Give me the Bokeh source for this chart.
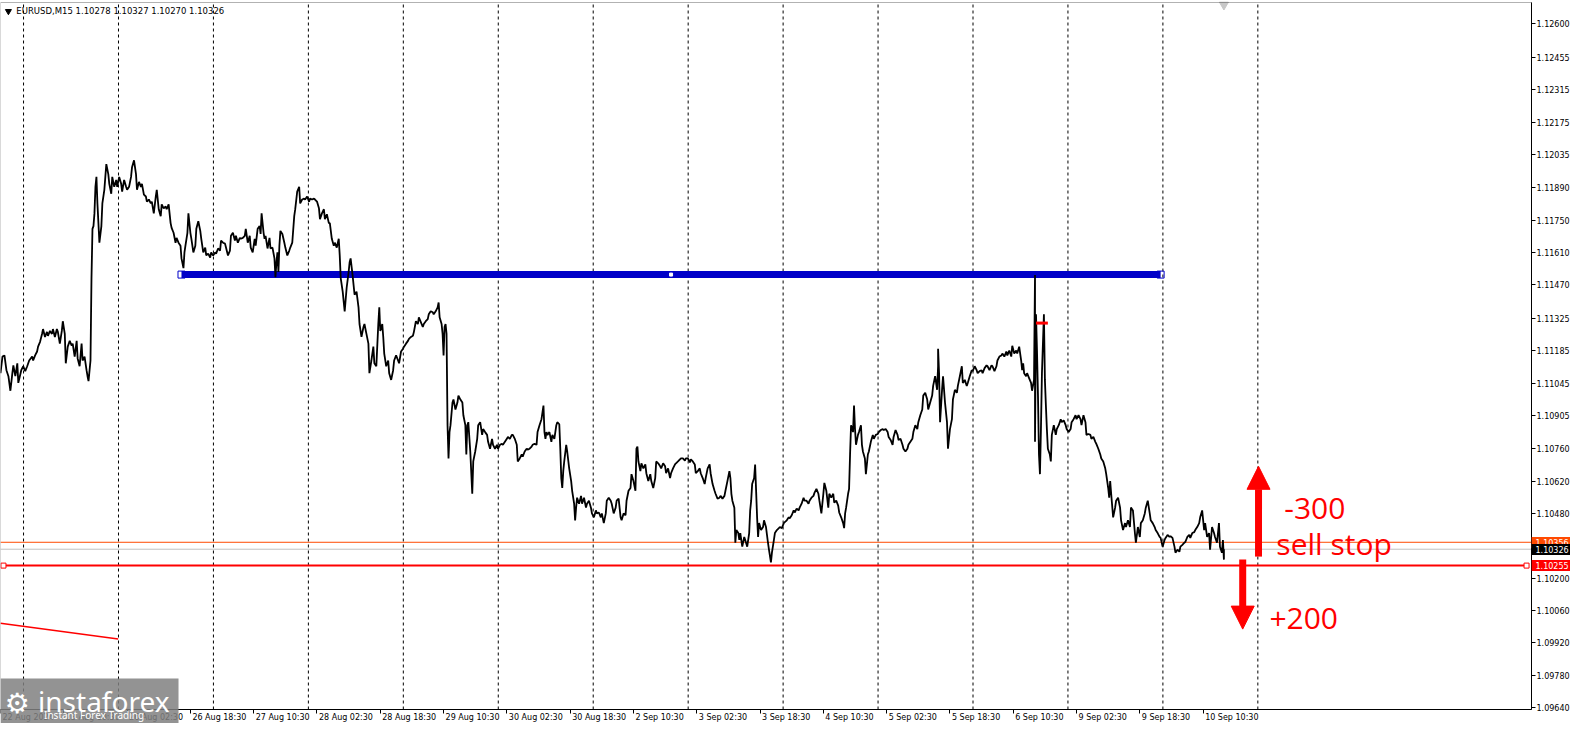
from bokeh.plotting import figure
from bokeh.models import (Range1d, FixedTicker, PrintfTickFormatter, Label, Arrow,
                          NormalHead, BoxAnnotation, LinearAxis)
from bokeh.embed import file_html
from bokeh.resources import INLINE

# ---------------- data (bar index, close price) ----------------
bar_x = [
    0, 2, 4, 6, 8, 10, 12, 13, 15, 17, 18, 21, 23, 25, 27, 29, 32, 33, 35, 37, 38, 40, 42, 43, 45, 47, 48, 50,
    52, 53, 55, 57, 58, 60, 62, 63, 65, 66, 68, 70, 72, 73, 75, 77, 78, 80, 82, 83, 85, 87, 88, 89, 91, 92,
    93, 94, 95, 96, 97, 98, 99, 100, 102, 103, 105, 106, 107, 109, 110, 112, 113, 115, 117, 118, 120, 122,
    123, 125, 127, 128, 130, 132, 133, 135, 137, 138, 140, 142, 143, 145, 147, 148, 150, 152, 153, 155, 157,
    158, 160, 162, 163, 165, 167, 168, 170, 172, 173, 175, 177, 178, 180, 182, 183, 185, 186, 187, 189, 190,
    192, 193, 195, 197, 198, 200,
    202, 203, 205, 207, 208, 210, 212, 213, 215, 217, 218, 220, 222, 223, 225, 227, 228, 230, 232, 233, 235,
    237, 238, 240, 242, 243, 245, 247, 248, 250, 252, 253, 255, 257, 258, 260, 262, 263, 264, 266, 267, 268,
    270, 272, 273, 275, 277, 278, 279, 280, 281, 282, 283, 285, 287, 288, 290, 292, 293, 295, 297, 298, 300,
    302, 303, 305, 307, 308, 310, 312, 313, 315, 317, 318, 320, 322, 323, 325, 327, 328, 330, 332, 333, 335,
    337, 338, 340, 342, 343, 344, 346, 347, 348, 350, 352, 353, 354, 356, 357, 358, 360, 362, 363, 365, 367,
    368, 370, 372, 373, 375, 377, 378, 380, 382, 383, 384, 386, 387, 388, 390, 392, 393, 395, 397, 398, 400,
    402, 403,
    405, 407, 408, 410, 412, 413, 415, 417, 418, 420, 422, 423, 425, 427, 428, 430, 432, 433, 435, 437, 438,
    440, 442, 443, 444, 446, 447, 448, 449, 450, 451, 452, 453, 454, 455, 457, 458, 460, 462, 463, 465, 467,
    468, 470, 471, 472, 473, 475, 477, 478, 480, 482, 483, 485, 487, 488, 490, 492, 493, 495, 497, 498, 500,
    502, 503, 505, 507, 508, 510, 512, 513, 515, 517, 518, 520, 522, 523, 525, 527, 528, 530, 532, 533, 535,
    537, 538, 540, 542, 543, 545, 547, 548, 549, 550, 551, 552, 553, 555, 557, 558, 560, 562, 563, 565, 566,
    567, 568, 569, 570, 572, 573, 575, 577, 578, 580, 581, 582, 583, 585, 587, 588, 590, 592, 593, 595, 597,
    598, 600, 602, 603, 605, 607, 608,
    610, 612, 613, 615, 617, 618, 620, 622, 623, 625, 627, 628, 630, 632, 633, 635, 637, 638, 640, 642, 643,
    644, 645, 647, 648, 650, 652, 653, 655, 657, 658, 660, 662, 663, 665, 667, 668, 670, 672, 673, 675, 677,
    678, 680, 682, 683, 685, 687, 688, 690, 692, 693, 695, 697, 698, 700, 702, 703, 705, 707, 708, 710, 712,
    713, 715, 717, 718, 720, 722, 723, 725, 727, 728, 730, 732, 733, 735, 737, 738, 739, 740, 742, 743, 744,
    746, 747, 748, 750, 752, 753, 755, 757, 758, 759, 760, 762, 763, 764, 765, 766, 767, 769, 771, 772, 774,
    776, 777, 779, 780, 782, 783, 785, 787, 788, 790, 792, 793, 795, 797, 798, 800, 802, 803, 805, 807, 808,
    810, 812, 813,
    815, 817, 818, 820, 822, 823, 825, 827, 828, 830, 832, 833, 835, 837, 838, 840, 842, 843, 845, 847, 848,
    850, 852, 853, 854, 855, 857, 858, 859, 860, 862, 863, 864, 865, 867, 868, 870, 871, 872, 874, 875, 877,
    878, 880, 882, 883, 885, 887, 888, 890, 892, 893, 895, 897, 898, 900, 902, 903, 905, 907, 908, 910, 912,
    913, 915, 917, 918, 920, 922, 923, 925, 927, 928, 930, 932, 933, 935, 937, 938, 940, 942, 943, 945, 947,
    948, 948, 949, 950, 952, 953, 955, 957, 958, 960, 962, 963, 965, 967, 968, 970, 972, 973, 975, 977, 978,
    980, 982, 983, 985, 987, 988, 990, 992, 993, 995, 997, 998, 1000, 1002, 1003, 1005, 1007, 1008, 1010,
    1012, 1013, 1015, 1017, 1018, 1020, 1022, 1023, 1025,
    1027, 1028, 1030, 1032, 1033, 1034, 1035, 1037, 1038, 1040, 1042, 1043, 1045, 1046, 1046, 1047, 1048,
    1049, 1050, 1051, 1052, 1053, 1055, 1056, 1057, 1058, 1059, 1061, 1062, 1063, 1065, 1067, 1068, 1070,
    1072, 1073, 1075, 1077, 1078, 1080, 1082, 1083, 1085, 1087, 1088, 1090, 1092, 1093, 1095, 1097, 1098,
    1100, 1102, 1103, 1105, 1107, 1108, 1110, 1112, 1113, 1115, 1117, 1118, 1120, 1121, 1122, 1123, 1125,
    1127, 1128, 1130, 1132, 1133, 1135, 1137, 1138, 1140, 1142, 1143, 1145, 1147, 1148, 1150, 1152, 1153,
    1155, 1157, 1158, 1160, 1162, 1163, 1165, 1167, 1168, 1170, 1172, 1173, 1175, 1177, 1178, 1180, 1182,
    1183, 1185, 1187, 1188, 1190, 1192, 1193, 1195, 1197, 1198, 1200, 1202, 1203, 1205, 1207, 1208, 1210,
    1212, 1213, 1215, 1217, 1218, 1220, 1222, 1223, 1225, 1227, 1228, 1230, 1232, 1233, 1235, 1236, 1237,
    1237,
]

close = [
    1.11088, 1.11160, 1.11165, 1.11101, 1.11075, 1.11012, 1.11088, 1.11122, 1.11075, 1.11131, 1.11046,
    1.11101, 1.11118, 1.11097, 1.11118, 1.11143, 1.11160, 1.11143, 1.11165, 1.11182, 1.11203, 1.11224,
    1.11258, 1.11279, 1.11245, 1.11267, 1.11250, 1.11271, 1.11258, 1.11279, 1.11245, 1.11279, 1.11267,
    1.11216, 1.11271, 1.11313, 1.11258, 1.11131, 1.11203, 1.11228, 1.11207, 1.11216, 1.11160, 1.11228,
    1.11152, 1.11118, 1.11216, 1.11143, 1.11160, 1.11101, 1.11075, 1.11054, 1.11143, 1.11500, 1.11713,
    1.11725, 1.11780, 1.11895, 1.11938, 1.11823, 1.11738, 1.11653, 1.11725, 1.11823, 1.11882, 1.11938,
    1.11993, 1.11950, 1.11908, 1.11865, 1.11938, 1.11895, 1.11925, 1.11895, 1.11938, 1.11908, 1.11874,
    1.11925, 1.11895, 1.11882, 1.11895, 1.11938, 1.11980, 1.12010, 1.11950, 1.11882, 1.11916, 1.11895,
    1.11908, 1.11861, 1.11853, 1.11831, 1.11840, 1.11823, 1.11831, 1.11780, 1.11853, 1.11882, 1.11798,
    1.11768, 1.11819, 1.11802, 1.11810, 1.11798, 1.11819, 1.11738, 1.11717, 1.11696, 1.11653, 1.11674,
    1.11653, 1.11640, 1.11585, 1.11543, 1.11611, 1.11640, 1.11696, 1.11780, 1.11696, 1.11670, 1.11611,
    1.11640, 1.11713, 1.11746,
    1.11704, 1.11670, 1.11611, 1.11632, 1.11598, 1.11606, 1.11589, 1.11611, 1.11598, 1.11611, 1.11606,
    1.11628, 1.11619, 1.11662, 1.11653, 1.11649, 1.11632, 1.11598, 1.11619, 1.11683, 1.11696, 1.11662,
    1.11683, 1.11653, 1.11674, 1.11670, 1.11674, 1.11683, 1.11713, 1.11653, 1.11683, 1.11632, 1.11611,
    1.11670, 1.11640, 1.11713, 1.11725, 1.11691, 1.11780, 1.11696, 1.11670, 1.11683, 1.11628, 1.11674,
    1.11628, 1.11632, 1.11585, 1.11504, 1.11568, 1.11611, 1.11526, 1.11640, 1.11704, 1.11691, 1.11653,
    1.11632, 1.11598, 1.11619, 1.11632, 1.11653, 1.11768, 1.11798, 1.11874, 1.11895, 1.11823, 1.11840,
    1.11844, 1.11840, 1.11853, 1.11831, 1.11844, 1.11840, 1.11844, 1.11840, 1.11831, 1.11802, 1.11755,
    1.11780, 1.11798, 1.11755, 1.11776, 1.11738, 1.11738, 1.11670, 1.11640, 1.11653, 1.11632, 1.11670,
    1.11598, 1.11500, 1.11441, 1.11398, 1.11356, 1.11458, 1.11526, 1.11568, 1.11585, 1.11513, 1.11470,
    1.11428, 1.11441, 1.11373, 1.11301, 1.11245, 1.11288, 1.11301, 1.11258, 1.11216, 1.11088, 1.11143,
    1.11203, 1.11131, 1.11118, 1.11301, 1.11373, 1.11271, 1.11301, 1.11245, 1.11173, 1.11118, 1.11143,
    1.11088, 1.11059, 1.11101, 1.11143, 1.11165, 1.11143, 1.11131,
    1.11182, 1.11194, 1.11203, 1.11216, 1.11228, 1.11237, 1.11245, 1.11250, 1.11267, 1.11313, 1.11301,
    1.11330, 1.11309, 1.11288, 1.11301, 1.11313, 1.11322, 1.11343, 1.11356, 1.11352, 1.11343, 1.11356,
    1.11373, 1.11394, 1.11330, 1.11301, 1.11258, 1.11165, 1.11288, 1.11301, 1.11258, 1.10863, 1.10719,
    1.10833, 1.10863, 1.10961, 1.10974, 1.10931, 1.10961, 1.10991, 1.10974, 1.10961, 1.10906, 1.10863,
    1.10736, 1.10863, 1.10876, 1.10749, 1.10566, 1.10706, 1.10749, 1.10804, 1.10863, 1.10876, 1.10821,
    1.10846, 1.10833, 1.10821, 1.10791, 1.10761, 1.10804, 1.10778, 1.10761, 1.10778, 1.10761, 1.10778,
    1.10782, 1.10778, 1.10791, 1.10804, 1.10812, 1.10804, 1.10821, 1.10821, 1.10804, 1.10778, 1.10706,
    1.10719, 1.10736, 1.10727, 1.10749, 1.10761, 1.10757, 1.10761, 1.10770, 1.10778, 1.10782, 1.10778,
    1.10833, 1.10863, 1.10889, 1.10918, 1.10948, 1.10833, 1.10804, 1.10833, 1.10821, 1.10833, 1.10791,
    1.10821, 1.10804, 1.10863, 1.10876, 1.10867, 1.10761, 1.10634, 1.10591, 1.10664, 1.10706, 1.10778,
    1.10749, 1.10676, 1.10621, 1.10579, 1.10523, 1.10451, 1.10506, 1.10549, 1.10523, 1.10557, 1.10523,
    1.10549, 1.10506, 1.10523, 1.10536, 1.10506, 1.10481, 1.10464, 1.10494, 1.10481, 1.10485, 1.10464,
    1.10481,
    1.10439, 1.10481, 1.10536, 1.10549, 1.10536, 1.10523, 1.10481, 1.10506, 1.10536, 1.10545, 1.10464,
    1.10451, 1.10481, 1.10473, 1.10536, 1.10579, 1.10591, 1.10651, 1.10621, 1.10579, 1.10761, 1.10770,
    1.10706, 1.10664, 1.10698, 1.10676, 1.10693, 1.10655, 1.10621, 1.10651, 1.10621, 1.10591, 1.10634,
    1.10706, 1.10698, 1.10685, 1.10676, 1.10698, 1.10685, 1.10655, 1.10676, 1.10634, 1.10655, 1.10676,
    1.10693, 1.10698, 1.10706, 1.10715, 1.10719, 1.10719, 1.10710, 1.10719, 1.10719, 1.10702, 1.10715,
    1.10706, 1.10693, 1.10655, 1.10664, 1.10676, 1.10655, 1.10634, 1.10608, 1.10634, 1.10676, 1.10693,
    1.10655, 1.10608, 1.10579, 1.10566, 1.10545, 1.10549, 1.10557, 1.10545, 1.10557, 1.10579, 1.10621,
    1.10664, 1.10634, 1.10566, 1.10536, 1.10506, 1.10354, 1.10409, 1.10396, 1.10366, 1.10396, 1.10337,
    1.10379, 1.10366, 1.10337, 1.10396, 1.10494, 1.10536, 1.10608, 1.10634, 1.10693, 1.10579, 1.10464,
    1.10379, 1.10439, 1.10409, 1.10422, 1.10451, 1.10422, 1.10354, 1.10324, 1.10269, 1.10311, 1.10366,
    1.10396, 1.10409, 1.10417, 1.10422, 1.10417, 1.10439, 1.10443, 1.10451, 1.10464, 1.10460, 1.10473,
    1.10494, 1.10485, 1.10502, 1.10494, 1.10506, 1.10523, 1.10549, 1.10536,
    1.10536, 1.10523, 1.10536, 1.10549, 1.10557, 1.10570, 1.10587, 1.10566, 1.10536, 1.10481, 1.10566,
    1.10613, 1.10579, 1.10506, 1.10566, 1.10549, 1.10566, 1.10528, 1.10536, 1.10515, 1.10485, 1.10464,
    1.10439, 1.10417, 1.10481, 1.10506, 1.10566, 1.10587, 1.10736, 1.10863, 1.10833, 1.10948, 1.10846,
    1.10778, 1.10821, 1.10833, 1.10863, 1.10778, 1.10749, 1.10719, 1.10651, 1.10736, 1.10749, 1.10791,
    1.10821, 1.10804, 1.10821, 1.10825, 1.10833, 1.10842, 1.10846, 1.10842, 1.10846, 1.10833, 1.10812,
    1.10799, 1.10778, 1.10812, 1.10842, 1.10821, 1.10799, 1.10804, 1.10778, 1.10761, 1.10749, 1.10761,
    1.10778, 1.10791, 1.10804, 1.10833, 1.10863, 1.10846, 1.10876, 1.10906, 1.10931, 1.10991, 1.11003,
    1.10974, 1.10931, 1.10961, 1.10991, 1.11033, 1.11075, 1.11016, 1.11118, 1.11194, 1.11088, 1.10876,
    1.11016, 1.11075, 1.10961, 1.10876, 1.10761, 1.10846, 1.10889, 1.10974, 1.11016, 1.11003, 1.11033,
    1.11075, 1.11118, 1.11046, 1.11059, 1.11033, 1.11046, 1.11075, 1.11101, 1.11097, 1.11118, 1.11101,
    1.11088, 1.11097, 1.11101, 1.11088, 1.11110, 1.11122, 1.11118, 1.11101, 1.11122, 1.11118, 1.11097,
    1.11118, 1.11143, 1.11160, 1.11165, 1.11173, 1.11160, 1.11182, 1.11165, 1.11186, 1.11160, 1.11207,
    1.11173,
    1.11186, 1.11173, 1.11203, 1.11143, 1.11101, 1.11131, 1.11088, 1.11075, 1.11088, 1.11067, 1.11046,
    1.11012, 1.11059, 1.11513, 1.10791, 1.11343, 1.11186, 1.10991, 1.10736, 1.10651, 1.10846, 1.11088,
    1.11343, 1.11059, 1.10948, 1.10846, 1.10761, 1.10736, 1.10706, 1.10821, 1.10863, 1.10821, 1.10846,
    1.10863, 1.10889, 1.10876, 1.10884, 1.10863, 1.10846, 1.10833, 1.10846, 1.10876, 1.10889, 1.10906,
    1.10889, 1.10906, 1.10889, 1.10863, 1.10906, 1.10876, 1.10821, 1.10825, 1.10821, 1.10804, 1.10812,
    1.10791, 1.10782, 1.10761, 1.10736, 1.10719, 1.10706, 1.10676, 1.10651, 1.10591, 1.10549, 1.10621,
    1.10566, 1.10464, 1.10506, 1.10536, 1.10549, 1.10506, 1.10451, 1.10409, 1.10439, 1.10422, 1.10451,
    1.10422, 1.10506, 1.10494, 1.10396, 1.10354, 1.10422, 1.10379, 1.10439, 1.10451, 1.10481, 1.10506,
    1.10536, 1.10481, 1.10451, 1.10439, 1.10422, 1.10409, 1.10396, 1.10379, 1.10375, 1.10337, 1.10366,
    1.10375, 1.10388, 1.10379, 1.10383, 1.10375, 1.10337, 1.10311, 1.10324, 1.10315, 1.10337, 1.10345,
    1.10354, 1.10358, 1.10379, 1.10388, 1.10375, 1.10396, 1.10400, 1.10409, 1.10422, 1.10439, 1.10464,
    1.10494, 1.10409, 1.10439, 1.10379, 1.10396, 1.10324, 1.10422, 1.10396, 1.10379, 1.10354, 1.10439,
    1.10337, 1.10311, 1.10366, 1.10281, 1.10326,
]

# horizontal levels / objects on the chart
blue_level = 1.11515
blue_start, blue_end, blue_mid = 183, 1173, 678
sell_stop_level = 1.10356
bid_level = 1.10326
red_level = 1.10255
red_start, red_end = 3, 1543
trend_x = [0, 119]
trend_y = [1.10005, 1.09937]
mark_x = [1047, 1059]
mark_level = 1.11305

# axis ticks
y_ticks = [1.12600, 1.12455, 1.12315, 1.12175, 1.12035, 1.11890, 1.11750, 1.11610, 1.11470,
           1.11325, 1.11185, 1.11045, 1.10905, 1.10760, 1.10620, 1.10480, 1.10200, 1.10060,
           1.09920, 1.09780, 1.09640]
x_tick_labels = ["22 Aug 2024", "23 Aug 10:30", "26 Aug 02:30", "26 Aug 18:30", "27 Aug 10:30",
                 "28 Aug 02:30", "28 Aug 18:30", "29 Aug 10:30", "30 Aug 02:30", "30 Aug 18:30",
                 "2 Sep 10:30", "3 Sep 02:30", "3 Sep 18:30", "4 Sep 10:30", "5 Sep 02:30",
                 "5 Sep 18:30", "6 Sep 10:30", "9 Sep 02:30", "9 Sep 18:30", "10 Sep 10:30"]
x_tick_pos = [64 * i for i in range(len(x_tick_labels))]
grid_pos = [23.3 + 96 * i for i in range(14)]

# ---------------- layout (pixels) ----------------
CW, CH = 1570, 723          # whole canvas
PW = 1531                   # width of the price area (price scale to its right)
PT, PB = 2, 709             # top / bottom of the price area
X0, X1 = 0, 1548            # bars shown in the price area
Y0, Y1 = 1.09632, 1.12693   # prices at bottom / top of the price area
SX = (X1 - X0) / PW
SY = (Y1 - Y0) / (PB - PT)
AXF = "DejaVu Sans"

_W = {" ": 0.318, ":": 0.337, "A": 0.684, "S": 0.635, "u": 0.634, "g": 0.635, "e": 0.615, "p": 0.635}


def text_w(s, size=8):
    return sum(_W.get(c, 0.636) for c in s) * size


label_pos = [round(t + (text_w(s) / 2 + 2) * SX, 2) for t, s in zip(x_tick_pos, x_tick_labels)]

p = figure(frame_width=CW, frame_height=CH,
           x_range=Range1d(X0, X0 + CW * SX), y_range=Range1d(Y0 - (CH - PB) * SY, Y1 + PT * SY),
           x_axis_location=None, y_axis_location=None,
           output_backend="svg", toolbar_location=None,
           min_border_left=0, min_border_top=0, min_border_right=0, min_border_bottom=0)
p.background_fill_color = "white"
p.border_fill_color = "white"
p.outline_line_color = None
p.grid.visible = False

# dashed day separators
p.segment(x0=grid_pos, y0=[Y0] * len(grid_pos), x1=grid_pos, y1=[Y1] * len(grid_pos),
          line_color="black", line_width=1, line_dash="3 3")

# price scale
yax = LinearAxis(ticker=FixedTicker(ticks=y_ticks), formatter=PrintfTickFormatter(format="%.5f"),
                 fixed_location=X1, bounds=(Y0, Y1), axis_line_color="black",
                 major_tick_in=0, major_tick_out=4, major_tick_line_color="black",
                 minor_tick_in=0, minor_tick_out=0, major_label_standoff=1,
                 major_label_text_font=AXF, major_label_text_font_size="8px",
                 major_label_text_color="black")
p.add_layout(yax, "right")

# time scale: tick marks at the bar, labels starting at the tick
p.add_layout(LinearAxis(ticker=FixedTicker(ticks=x_tick_pos), fixed_location=Y0, bounds=(X0, X1),
                        axis_line_color="black", major_tick_in=0, major_tick_out=4,
                        major_tick_line_color="black", minor_tick_out=0, minor_tick_in=0,
                        major_label_overrides={t: "" for t in x_tick_pos},
                        major_label_text_font_size="8px"), "below")
p.add_layout(LinearAxis(ticker=FixedTicker(ticks=label_pos), fixed_location=Y0, axis_line_color=None,
                        major_tick_in=0, major_tick_out=0, minor_tick_out=0, minor_tick_in=0,
                        major_label_overrides={pos: lab for pos, lab in zip(label_pos, x_tick_labels)},
                        major_label_standoff=3, major_label_text_font=AXF,
                        major_label_text_font_size="8px", major_label_text_color="black"), "below")

# border of the price area
p.add_layout(BoxAnnotation(left=X0, right=X1, bottom=Y0, top=Y1, fill_alpha=0,
                           line_color="black", line_width=1))

# level lines
p.line([X0, X1], [sell_stop_level] * 2, line_color="#FF4A00", line_width=1)
p.line([X0, X1], [bid_level] * 2, line_color="#C0C0C0", line_width=1)
p.line([red_start, red_end], [red_level, red_level], line_color="#FF0000", line_width=2)
p.scatter([red_start, red_end], [red_level, red_level], marker="square", size=5,
          fill_color="white", line_color="#FF0000", line_width=1)
p.line(trend_x, trend_y, line_color="#FF0000", line_width=1.5)

# blue level
p.line([blue_start, blue_end], [blue_level, blue_level], line_color="#0000C8", line_width=7)
p.scatter([blue_start, blue_end], [blue_level, blue_level], marker="square", size=7,
          fill_alpha=0.0, line_color="#0000C8", line_width=1)
p.scatter([blue_mid], [blue_level], marker="square", size=3, fill_color="white", line_color="white")

# price series
p.line(bar_x, close, line_color="black", line_width=1.8)

# trade marker
p.line(mark_x, [mark_level, mark_level], line_color="#FF0000", line_width=3)

# shift marker at top
p.scatter([bar_x[-1]], [1.12683], marker="inverted_triangle", size=9, fill_color="#C8C8C8",
          line_color="#C8C8C8")

# title
p.scatter([8], [1.12655], marker="inverted_triangle", size=6, color="black")
p.add_layout(Label(x=16, y=1.12655, text="EURUSD,M15  1.10278 1.10327 1.10270 1.10326",
                   text_font=AXF, text_font_size="8.5px", text_color="black",
                   text_baseline="middle", text_align="left"))

# price tags on the price scale (thick ticks as the tag background)
for lvl, bg in [(sell_stop_level, "#FF4A00"), (bid_level, "#000000"), (red_level, "#FF0000")]:
    p.add_layout(LinearAxis(ticker=FixedTicker(ticks=[lvl]), formatter=PrintfTickFormatter(format="%.5f"),
                            fixed_location=X1, axis_line_color=None,
                            major_tick_in=0, major_tick_out=CW - PW, major_tick_line_width=11,
                            major_tick_line_color=bg, minor_tick_in=0, minor_tick_out=0,
                            major_label_standoff=-(CW - PW - 4), major_label_text_color="white",
                            major_label_text_font=AXF, major_label_text_font_size="8px"), "right")

# arrows and notes
p.add_layout(Arrow(end=NormalHead(size=23, fill_color="#FF0000", line_color="#FF0000"),
                   x_start=1272, y_start=1.10294, x_end=1272, y_end=1.10685,
                   line_color="#FF0000", line_width=7))
p.add_layout(Arrow(end=NormalHead(size=23, fill_color="#FF0000", line_color="#FF0000"),
                   x_start=1256, y_start=1.10281, x_end=1256, y_end=1.09980,
                   line_color="#FF0000", line_width=7))
for tx, ty, tt in [(1298, 1.10502, "-300"), (1290, 1.10349, "sell stop"), (1283, 1.10027, "+200")]:
    p.add_layout(Label(x=tx, y=ty, text=tt, text_font="Open Sans", text_font_size="30px",
                       text_color="#FF0000", text_baseline="alphabetic", text_align="left"))

# watermark
p.add_layout(BoxAnnotation(left=0, right=180, top=Y0 + 31 * SY, bottom=Y0 - (CH - PB) * SY,
                           fill_color="#808080", fill_alpha=0.85, line_alpha=0))
p.add_layout(Label(x=4, y=Y0 + 6 * SY, text="\u2699", text_font="DejaVu Sans", text_font_size="28px",
                   text_color="white", text_baseline="alphabetic"))
p.add_layout(Label(x=38, y=Y0 + 9 * SY, text="instaforex", text_font="Noto Sans",
                   text_font_size="28px", text_color="white", text_baseline="alphabetic"))
p.add_layout(Label(x=44, y=Y0 - 5 * SY, text="Instant Forex Trading", text_font="Noto Sans",
                   text_font_size="10px", text_color="white", text_baseline="alphabetic"))

open("out.html", "w").write(file_html(p, INLINE))
